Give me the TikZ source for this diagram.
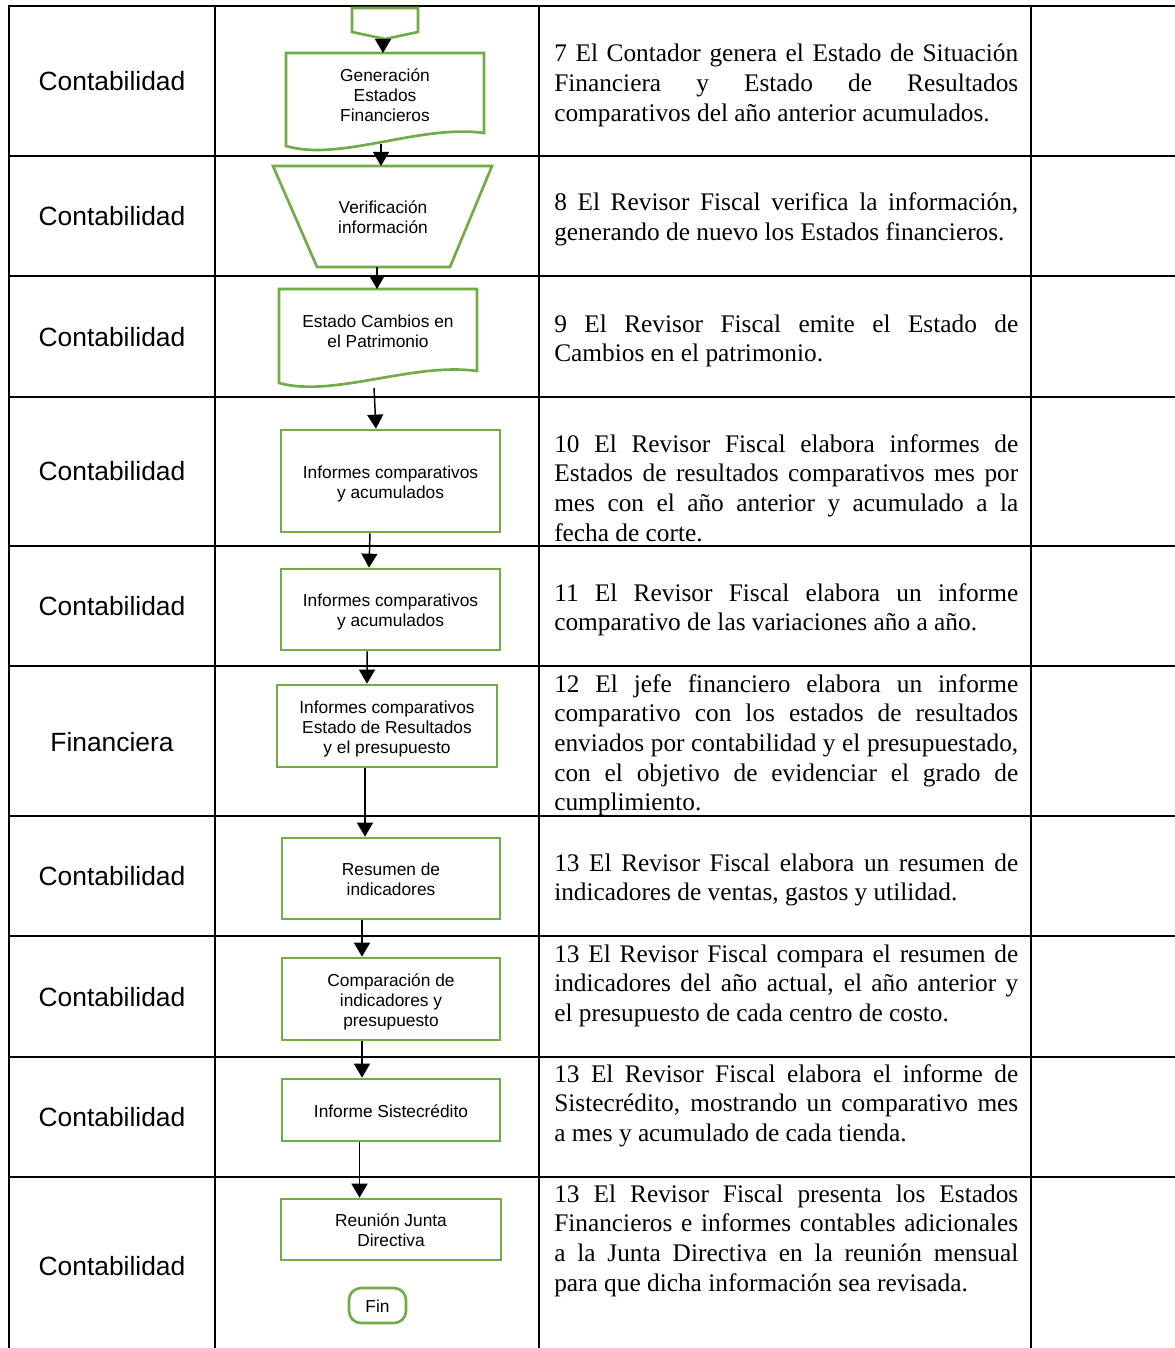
\documentclass[tikz,border=0pt]{standalone}
\usepackage{fontspec}
\setmainfont{Liberation Serif}
\newfontfamily\flowfont{Liberation Sans}
\usetikzlibrary{arrows.meta}
% justified text column
\newlength\descw
\setlength\descw{348pt}
\newcommand\jl[1]{\hbox to \descw{#1}}
\newcommand\nl[1]{\hbox{#1}}
\newcommand\para[1]{\vtop{\baselineskip=22.3pt #1}}
% struts that fix the height of the first line and the depth of the last one
\newcommand\fs{\rule{0pt}{13.6pt}}
\newcommand\ls{\rule[-3pt]{0pt}{3pt}}
\definecolor{flowgreen}{HTML}{70AD47}
\tikzset{
  tline/.style={line width=1.8pt, black, line cap=rect},
  lane/.style={font=\flowfont\fontsize{19.8}{23}\selectfont, inner sep=0},
  desc/.style={font=\fontsize{19}{22.3}\selectfont, inner sep=0, anchor=base west},
  flowtxt/.style={font=\flowfont\fontsize{13}{15}\selectfont, align=center, inner sep=0},
  gline/.style={draw=flowgreen, line width=2pt, line join=miter},
  box/.style={flowtxt, gline, minimum width=164.25pt, minimum height=61.5pt},
  arr/.style={line width=1.1pt, black, -{Triangle[width=12pt,length=10.5pt]}},
}
\begin{document}
\begin{tikzpicture}[x=0.75pt,y=-0.75pt]
\useasboundingbox (0,0) rectangle (1174,1348);
\fill[white] (0,0) rectangle (1174,1348);

% table grid
\foreach \yy in {6,156,276,397,546,666,816,936,1057,1177}
  \draw[tline] (9,\yy) -- (1174,\yy);
\foreach \xx in {9,215,539,1031}
  \draw[tline] (\xx,6) -- (\xx,1348);

% responsible area
\node[lane] (l1) at (112,81) {Contabilidad};
\node[lane] (l2) at (112,216) {Contabilidad};
\node[lane] (l3) at (112,337) {Contabilidad};
\node[lane] (l4) at (112,471) {Contabilidad};
\node[lane] (l5) at (112,606) {Contabilidad};
\node[lane] (l6) at (112,742) {Financiera};
\node[lane] (l7) at (112,876) {Contabilidad};
\node[lane] (l8) at (112,997) {Contabilidad};
\node[lane] (l9) at (112,1117) {Contabilidad};
\node[lane] (l10) at (112,1266) {Contabilidad};

% activity descriptions
\node[desc] (p1) at (554,62) {\para{%
  \jl{7 El Contador genera el Estado de Situación}
  \jl{Financiera y Estado de Resultados}
  \nl{comparativos del año anterior acumulados.}}};
\node[desc] (p2) at (554,211) {\para{%
  \jl{8 El Revisor Fiscal verifica la información,}
  \nl{generando de nuevo los Estados financieros.}}};
\node[desc] (p3) at (554,332) {\para{%
  \jl{9 El Revisor Fiscal emite el Estado de}
  \nl{Cambios en el patrimonio.}}};
\node[desc] (p4) at (554,452) {\para{%
  \jl{10 El Revisor Fiscal elabora informes de}
  \jl{Estados de resultados comparativos mes por}
  \jl{mes con el año anterior y acumulado a la}
  \nl{fecha de corte.}}};
\node[desc] (p5) at (554,601) {\para{%
  \jl{11 El Revisor Fiscal elabora un informe}
  \nl{comparativo de las variaciones año a año.}}};
\node[desc] (p6) at (554,692) {\para{%
  \jl{12 El jefe financiero elabora un informe}
  \jl{comparativo con los estados de resultados}
  \jl{enviados por contabilidad y el presupuestado,}
  \jl{con el objetivo de evidenciar el grado de}
  \nl{cumplimiento.}}};
\node[desc] (p7) at (554,871) {\para{%
  \jl{13 El Revisor Fiscal elabora un resumen de}
  \nl{indicadores de ventas, gastos y utilidad.}}};
\node[desc] (p8) at (554,962) {\para{%
  \jl{13 El Revisor Fiscal compara el resumen de}
  \jl{indicadores del año actual, el año anterior y}
  \nl{el presupuesto de cada centro de costo.}}};
\node[desc] (p9) at (554,1082) {\para{%
  \jl{13 El Revisor Fiscal elabora el informe de}
  \jl{Sistecrédito, mostrando un comparativo mes}
  \nl{a mes y acumulado de cada tienda.}}};
\node[desc] (p10) at (554,1202) {\para{%
  \jl{13 El Revisor Fiscal presenta los Estados}
  \jl{Financieros e informes contables adicionales}
  \jl{a la Junta Directiva en la reunión mensual}
  \nl{para que dicha información sea revisada.}}};

% off-page connector
\draw[gline] (352,8) -- (418,8) -- (418,32) -- (385,39) -- (352,32) -- cycle;
\coordinate (c0) at (383,39);

% document: Generación Estados Financieros
\draw[gline] (286,146) -- (286,53) -- (484,53) -- (484,133)
  .. controls (420,124) and (340,162) .. (286,146) -- cycle;
\node[flowtxt] (d1) at (385,95) {Generación\\Estados\\Financieros};
\coordinate (d1top) at (383,53);
\coordinate (d1bot) at (381,144);

% manual operation: Verificación información
\draw[gline] (273,166) -- (492,166) -- (450,267) -- (317,267) -- cycle;
\node[flowtxt] (t2) at (383,217) {Verificación\\información};
\coordinate (t2top) at (381,166);
\coordinate (t2bot) at (377,267);

% document: Estado Cambios en el Patrimonio
\draw[gline] (279,383) -- (279,289) -- (477,289) -- (477,371)
  .. controls (413,362) and (333,398) .. (279,383) -- cycle;
\node[flowtxt] (d2) at (378,331) {Estado Cambios en\\el Patrimonio};
\coordinate (d2top) at (377,289);
\coordinate (d2bot) at (374,388);

% process boxes
\node[box, minimum height=76.5pt] (b5) at (390.5,481) {\fs Informes comparativos\\y acumulados\ls};
\node[box, minimum height=60.75pt] (b6) at (390.5,609.5) {\fs Informes comparativos\\y acumulados\ls};
\node[box, minimum width=165pt, minimum height=61.5pt] (b7) at (387,726) {\fs Informes comparativos\\Estado de Resultados\\y el presupuesto\ls};
\node[box, minimum width=163.5pt, minimum height=60.75pt] (b8) at (391,878.5) {\fs Resumen de\\indicadores\ls};
\node[box, minimum width=163.5pt, minimum height=61.5pt] (b9) at (391,999) {\fs Comparación de\\indicadores y\\presupuesto\ls};
\node[box, minimum width=163.5pt, minimum height=46.5pt] (b10) at (391,1110) {\fs Informe Sistecrédito\ls};
\node[box, minimum width=165pt, minimum height=45.75pt] (b11) at (391,1229.5) {\fs Reunión Junta\\Directiva\ls};
\node[flowtxt, gline, rounded corners=9pt, minimum width=42.75pt, minimum height=26.25pt] (fin) at (377.5,1305.5) {\fs Fin\ls};

% flow
\draw[arr] (c0) -- (d1top);
\draw[arr] (d1bot) -- (t2top);
\draw[arr] (t2bot) -- (d2top);
\draw[arr] (d2bot) -- ([xshift=-10.9pt]b5.north);
\draw[arr] ([xshift=-15.4pt]b5.south) -- ([xshift=-16.1pt]b6.north);
\draw[arr] ([xshift=-17.6pt]b6.south) -- ([xshift=-15pt]b7.north);
\draw[arr] ([xshift=-16.5pt]b7.south) -- ([xshift=-19.5pt]b8.north);
\draw[arr] ([xshift=-21.75pt]b8.south) -- ([xshift=-21.75pt]b9.north);
\draw[arr] ([xshift=-21.75pt]b9.south) -- ([xshift=-21.75pt]b10.north);
\draw[arr] ([xshift=-23.6pt]b10.south) -- ([xshift=-23.6pt]b11.north);
\end{tikzpicture}
\end{document}
